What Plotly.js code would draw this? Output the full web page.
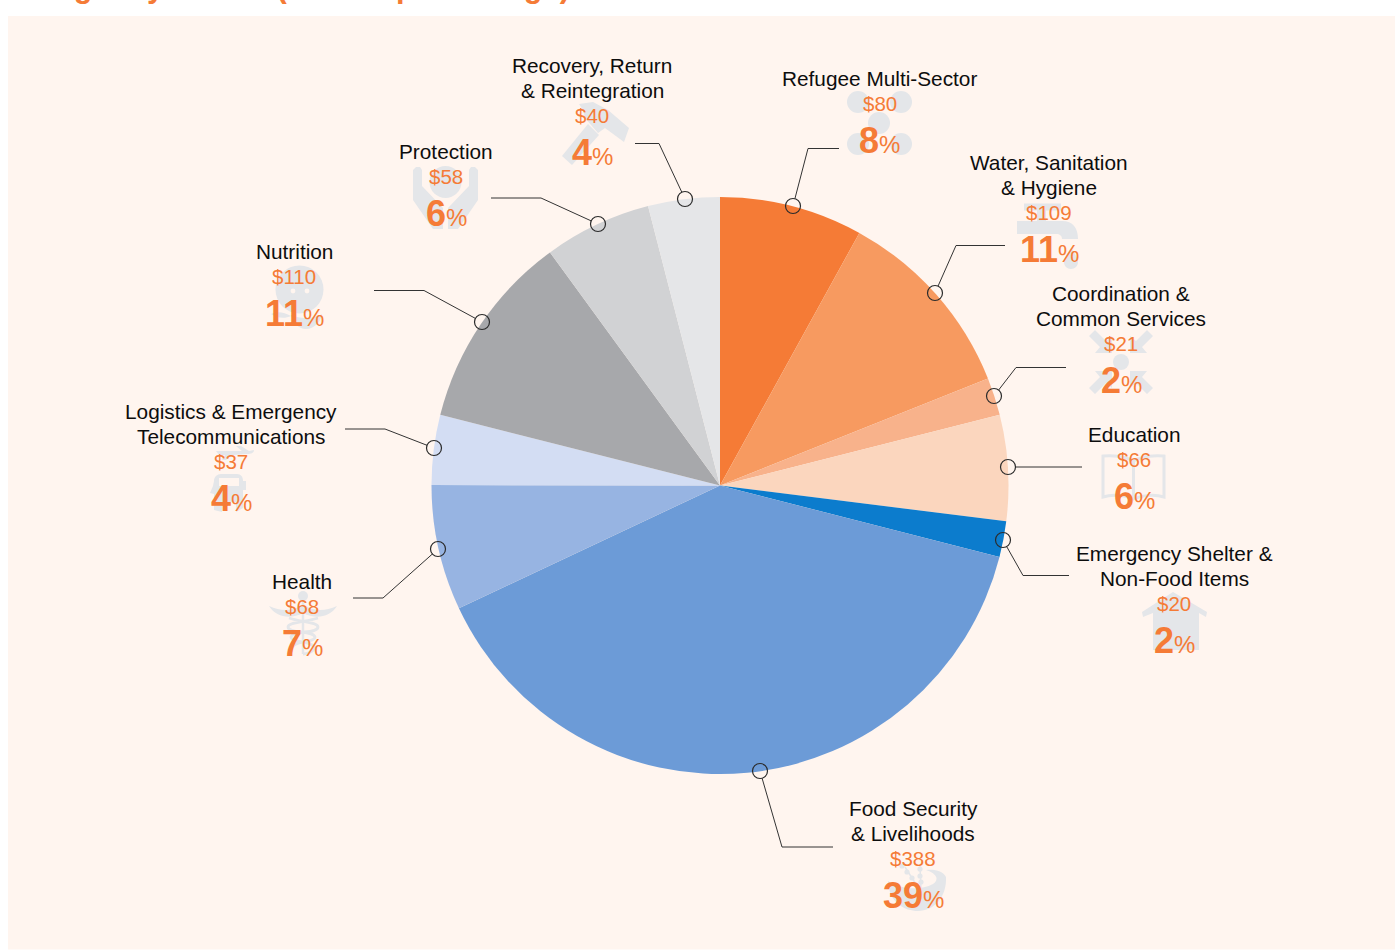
<!DOCTYPE html>
<html><head><meta charset="utf-8">
<script src="https://cdn.plot.ly/plotly-3.0.1.min.js"></script>
<style>html,body{margin:0;padding:0;background:#fff;overflow:hidden}#c{width:1395px;height:951px}</style>
</head><body><div id="c"></div>
<script>
// ---- data ----
const categories = ["Refugee Multi-Sector","Water, Sanitation\n& Hygiene","Coordination &\nCommon Services","Education","Emergency Shelter &\nNon-Food Items","Food Security\n& Livelihoods","Health","Logistics & Emergency\nTelecommunications","Nutrition","Protection","Recovery, Return\n& Reintegration"];
const amountLabels = ["$80","$109","$21","$66","$20","$388","$68","$37","$110","$58","$40"];
const percentLabels = ["8","11","2","6","2","39","7","4","11","6","4"];
// wedge sizes as drawn (measured from wedge angles)
const wedgeValues = [80,109,21,59,20,389,70,39,110,60,40];
const wedgeColors = ["#F57B36","#F79A60","#F8B28B","#FBD6BE","#0C7CCD","#6C9BD7","#97B4E2","#D3DDF3","#A7A8AB","#D1D2D4","#E5E6E8"];
const titleText = "Budget by Sector (USD in percentage)";

// ---- layout helpers ----
const W=1395,H=951;
const fx=x=>x/W, fy=y=>1-y/H;
const ORANGE="#F57B36", ICON="#E4E6E9", PANEL="#FFF5EF", INK="#0D0D0D";
// [first line y, centre x] of each label block
const labelAnchors=[[79,880],[163,1049],[294,1121],[435,1134],[554,1174],[809,913],[582,302],[412,231],[252,294],[152,446],[66,592]];
// leader polylines, last point = ring centre
const leaders=[
 [[839,148.5],[808,148.5],[793,206]],
 [[1005,245.5],[956,245.5],[935,293]],
 [[1066,367.5],[1016,367.5],[994,396]],
 [[1082,467],[1008,467]],
 [[1069,575.5],[1023,575.5],[1003,540]],
 [[833,847],[782,847],[760,771]],
 [[353,598],[383,598],[438,549]],
 [[345,429],[385,429],[434,448]],
 [[374,290.5],[424,290.5],[482,322]],
 [[491,198],[541,198],[598,224]],
 [[635,143.5],[659,143.5],[685,199]]
];
const P=s=>s.replace(/(-?[\d.]+)[ ,](-?[\d.]+)/g,(m,a,b)=>fx(+a)+','+fy(+b));
const shapes=[];
const fillPath=(s,c)=>shapes.push({type:'path',layer:'below',xref:'paper',yref:'paper',path:P(s),fillcolor:c||ICON,line:{width:0}});
const strokePath=(s,w,c)=>shapes.push({type:'path',layer:'below',xref:'paper',yref:'paper',path:P(s),fillcolor:'rgba(0,0,0,0)',line:{width:w,color:c||ICON}});
const dot=(x,y,r,c)=>shapes.push({type:'circle',layer:'below',xref:'paper',yref:'paper',x0:fx(x-r),x1:fx(x+r),y0:fy(y+r),y1:fy(y-r),fillcolor:c||ICON,line:{width:0}});
// background panel
shapes.push({type:'rect',layer:'below',xref:'paper',yref:'paper',x0:fx(8),x1:1,y0:fy(949.5),y1:fy(16),fillcolor:PANEL,line:{width:0}});
// Refugee: five dots
[[858,102],[901,102],[879,123],[858,144],[901,144]].forEach(c=>dot(c[0],c[1],11));
// Water: tap
strokePath("M1024,207 L1061,207",7);
fillPath("M1037,208 L1046,208 L1046,221 L1037,221 Z");
fillPath("M1017,221 L1062,221 C1073,221 1078,228 1078,239 L1062,239 C1062,236 1060,234 1056,234 L1017,234 Z");
fillPath("M1071,248 C1075,254 1078,258 1078,262 C1078,266 1075,269 1071,269 C1067,269 1064,266 1064,262 C1064,258 1067,254 1071,248 Z");
// Coordination: four arrows and a dot
dot(1121,362,8);
[[1,1],[-1,1],[1,-1],[-1,-1]].forEach(m=>{
  const q=(x,y)=>(1121+m[0]*(x-1121))+','+(362+m[1]*(y-362));
  fillPath("M"+q(1095,330)+" L"+q(1089,336)+" L"+q(1100,347)+" L"+q(1095,353)+" L"+q(1112,353)+" L"+q(1112,336)+" L"+q(1106,341)+" Z");
});
// Education: open book
strokePath("M1133.5,461 C1125,456 1112,455 1103,456 L1103,497 C1112,494 1125,495 1133.5,499 C1142,495 1155,494 1164,497 L1164,456 C1155,455 1142,456 1133.5,461 L1133.5,499",3);
// Shelter: house
fillPath("M1173,592 L1207,612 L1206,617 L1199,613 L1199,650 L1153,650 L1153,613 L1143,617 L1142,612 Z");
// Food: bowl and wheat
fillPath("M888,881 C889,903 905,911 918,911 C934,911 947,897 946,877 C943,871 935,869 926,870 C938,874 939,880 933,884 C920,891 900,889 888,881 Z");
strokePath("M905,867 L919,889 M920,866 L921,889",1.5);
[[902,866],[907,872],[912,878],[920,869],[920,876],[921,882]].forEach(c=>dot(c[0],c[1],2.6));
// Health: caduceus
strokePath("M303,596 L303,654",2.5);
dot(303,596,5);
fillPath("M303,604 C295,611 282,612 269,606 C276,617 290,620 303,613 C316,620 330,617 337,606 C324,612 311,611 303,604 Z");
strokePath("M289,618 C300,622 318,622 318,627 C318,634 292,630 291,637 C291,643 314,641 314,648 C314,652 306,654 303,654 M318,618 C306,622 288,622 288,627 C288,634 314,630 315,637 C315,643 292,641 292,648",2.8);
// Logistics: plane and truck
fillPath("M216,451 L242,451 L236,446 L241,446 L249,451 L254,450 C254,453 251,454 247,454 L232,455 L226,460 L222,460 L225,455 L219,455 Z");
fillPath("M221,474 L237,474 C241,474 243,477 243,481 L246,481 L246,490 L243,490 L243,508 L236,512 L236,502 L222,502 L222,512 L214,510 L214,494 L210,493 L213,486 L214,481 C214,477 217,474 221,474 Z M219,478 L219,486 L239,486 L239,478 Z");
// Nutrition: child's face, spoon and bowl
dot(299.5,289.5,24);
dot(293,291,2.4,PANEL); dot(307,291,2.4,PANEL);
fillPath("M271,314 C277,311 284,312 291,316 C285,319 276,318 271,314 Z");
fillPath("M291,315 C300,319 314,319 322,314 C321,322 314,329 306,329 C298,329 293,322 291,315 Z");
// Protection: head held in two hands
dot(445.5,182,16);
[1,-1].forEach(m=>{
  const q=(x,y)=>(445.5+m*(x-445.5))+','+y;
  fillPath("M"+q(413,170)+" L"+q(416,167)+" L"+q(420,167)+" L"+q(422,170)+" L"+q(422,186)+" L"+q(443,208)+" L"+q(443,229)+" L"+q(433,229)+" L"+q(413,200)+" Z");
});
// Recovery: hammer
fillPath("M579,104 L593,102 L608,110 L629,128 L624,142 L605,128 L598,133 L585,118 C584,112 582,108 579,104 Z");
fillPath("M588,124 L599,135 L572,165 L562,156 Z");

// leaders and rings on top of the pie
const RING=7.5;
leaders.forEach(l=>{
  const c=l[l.length-1], b=l[l.length-2];
  const dx=b[0]-c[0], dy=b[1]-c[1], len=Math.hypot(dx,dy);
  const pts=l.slice(0,-1).concat([[c[0]+dx/len*RING,c[1]+dy/len*RING]]);
  const d="M"+pts.map(p=>p[0]+","+p[1]).join(" L");
  shapes.push({type:'path',layer:'above',xref:'paper',yref:'paper',path:P(d),fillcolor:'rgba(0,0,0,0)',line:{width:1,color:'#333333'}});
  shapes.push({type:'circle',layer:'above',xref:'paper',yref:'paper',x0:fx(c[0]-RING),x1:fx(c[0]+RING),y0:fy(c[1]+RING),y1:fy(c[1]-RING),fillcolor:'rgba(0,0,0,0)',line:{width:1.2,color:'#2B2B2B'}});
});

// text
const FONT='Liberation Sans, Arial, sans-serif';
const annotations=[];
const addText=(text,x,y,size,color,anchor)=>annotations.push({xref:'paper',yref:'paper',x:fx(x),y:fy(y),xanchor:anchor||'center',yanchor:'middle',showarrow:false,text:text,font:{family:FONT,size:size,color:color},align:'center'});
categories.forEach((name,i)=>{
  const [y0,cx]=labelAnchors[i];
  const lines=name.split("\n");
  lines.forEach((t,k)=>addText(t.replace(/&/g,'&amp;'),cx,y0-0.8+25*k,20.8,INK));
  const last=y0+25*(lines.length-1);
  addText(amountLabels[i],cx,last+24.5,20.5,ORANGE);
  addText('<b>'+percentLabels[i]+'</b><span style="font-size:24px">%</span>',cx,last+61.5,36,ORANGE);
});
annotations.push({xref:'paper',yref:'paper',x:fx(12),y:fy(-13.5),xanchor:'left',yanchor:'middle',showarrow:false,text:'<b>'+titleText.replace(/&/g,'&amp;')+'</b>',font:{family:FONT,size:30.7,color:ORANGE}});

const data=[{type:'pie',labels:categories,values:wedgeValues,sort:false,direction:'clockwise',rotation:0,
  marker:{colors:wedgeColors,line:{width:0}},textinfo:'none',hoverinfo:'none',showlegend:false,
  domain:{x:[fx(431.5),fx(1008.5)],y:[fy(774),fy(197)]}}];
const layout={width:W,height:H,margin:{l:0,r:0,t:0,b:0},paper_bgcolor:'#FFFFFF',showlegend:false,shapes:shapes,annotations:annotations,font:{family:FONT}};
Plotly.newPlot('c',data,layout,{displayModeBar:false,staticPlot:true});
</script></body></html>
